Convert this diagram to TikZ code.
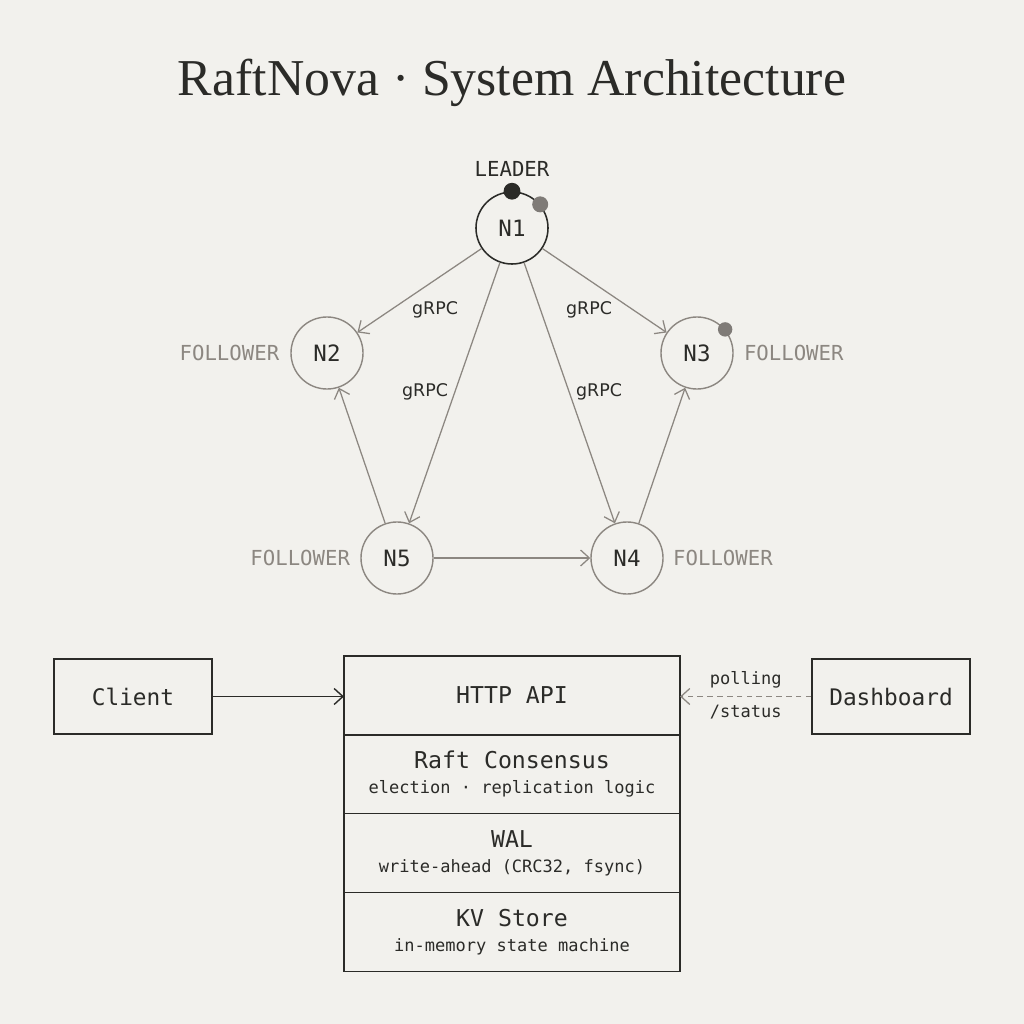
\documentclass[tikz,border=0pt]{standalone}
\usepackage{fontspec}
\setmainfont{Liberation Serif}
\setmonofont{DejaVu Sans Mono}
\newfontfamily\rpcfont{DejaVu Sans}
\usetikzlibrary{positioning,arrows.meta}
\definecolor{paper}{HTML}{F2F1ED}
\definecolor{ink}{HTML}{2B2B28}
\definecolor{ash}{HTML}{8C8781}
\definecolor{ashdot}{HTML}{7F7B77}
\newcommand{\layersub}{\fontsize{12.1}{14}\selectfont}

\tikzset{
  raftnode/.style={circle, draw=ash, line width=1pt, minimum size=1.8cm, inner sep=0pt,
    text=ink, font=\ttfamily\fontsize{16}{18}\selectfont},
  rolelabel/.style={inner sep=0pt, text=ash, font=\ttfamily\fontsize{14.7}{16}\selectfont},
  rpc/.style={inner sep=0pt, text=ink, font=\rpcfont\fontsize{12.4}{14}\selectfont},
  link/.style={draw=ash, line width=0.9pt, -{Straight Barb[length=2.2mm, width=4mm]}},
  sidebox/.style={rectangle, draw=ink, line width=1pt, minimum width=3.95cm, minimum height=1.875cm,
    text=ink, font=\ttfamily\fontsize{16.2}{18}\selectfont},
  layer/.style={rectangle, draw=ink, line width=1pt, outer sep=0pt, minimum width=8.4cm,
    minimum height=1.97cm, align=center, text=ink, font=\ttfamily\fontsize{16.5}{18}\selectfont},
  sublabel/.style={font=\ttfamily\layersub}
}

\begin{document}
\begin{tikzpicture}[x=0.025cm, y=-0.025cm]
  % paper
  \fill[paper] (0,0) rectangle (1024,1024);
  \useasboundingbox (0,0) rectangle (1024,1024);

  \node[text=ink, font=\fontsize{36.8}{40}\selectfont] (title) at (512,83) {RaftNova · System Architecture};

  % cluster
  \node[raftnode, draw=ink, line width=1.1pt] (n1) at (512,228) {N1};
  \node[raftnode] (n2) at (327,353) {N2};
  \node[raftnode] (n3) at (697,353) {N3};
  \node[raftnode] (n5) at (397,558) {N5};
  \node[raftnode] (n4) at (627,558) {N4};

  \fill[ink] (n1.90) circle (0.21cm);
  \fill[ashdot] (n1.40) circle (0.2cm);
  \fill[ashdot] (n3.40) circle (0.18cm);

  \node[rolelabel, text=ink, above=0.35cm of n1] (leader) {LEADER};
  \node[rolelabel, left=0.27cm of n2] (f2) {FOLLOWER};
  \node[rolelabel, right=0.25cm of n3] (f3) {FOLLOWER};
  \node[rolelabel, left=0.25cm of n5] (f5) {FOLLOWER};
  \node[rolelabel, right=0.23cm of n4] (f4) {FOLLOWER};

  \draw[link] (n1) -- (n2);
  \draw[link] (n1) -- (n3);
  \draw[link] (n1) -- (n5);
  \draw[link] (n1) -- (n4);
  \draw[link] (n5) -- (n2);
  \draw[link] (n4) -- (n3);
  \draw[link] (n5) -- (n4);

  \node[rpc] (rpc12) at (435,310) {gRPC};
  \node[rpc] (rpc13) at (589,310) {gRPC};
  \node[rpc] (rpc15) at (425,392) {gRPC};
  \node[rpc] (rpc14) at (599,392) {gRPC};

  % node internals
  \node[layer] (api) at (512,695.5) {HTTP API};
  \node[layer, below=0pt of api] (raft) {Raft Consensus\\{\layersub election · replication logic}};
  \node[layer, below=0pt of raft] (wal) {WAL\\{\layersub write-ahead (CRC32, fsync)}};
  \node[layer, below=0pt of wal] (kv) {KV Store\\{\layersub in-memory state machine}};

  \node[sidebox] (client) at (133,696.5) {Client};
  \node[sidebox] (dash) at (891,696.5) {Dashboard};

  \draw[ink, line width=1pt, -{Straight Barb[length=2.2mm, width=4mm]}] (client.east) -- (client.east -| api.west);
  \draw[ash, line width=0.9pt, dash pattern=on 4pt off 3pt, -{Straight Barb[length=2.2mm, width=4mm]}]
    (dash.west) -- node[above=2pt, sublabel, text=ink] (poll) {polling}
    node[below=2pt, sublabel, text=ink] (stat) {/status} (dash.west -| api.east);
\end{tikzpicture}
\end{document}
